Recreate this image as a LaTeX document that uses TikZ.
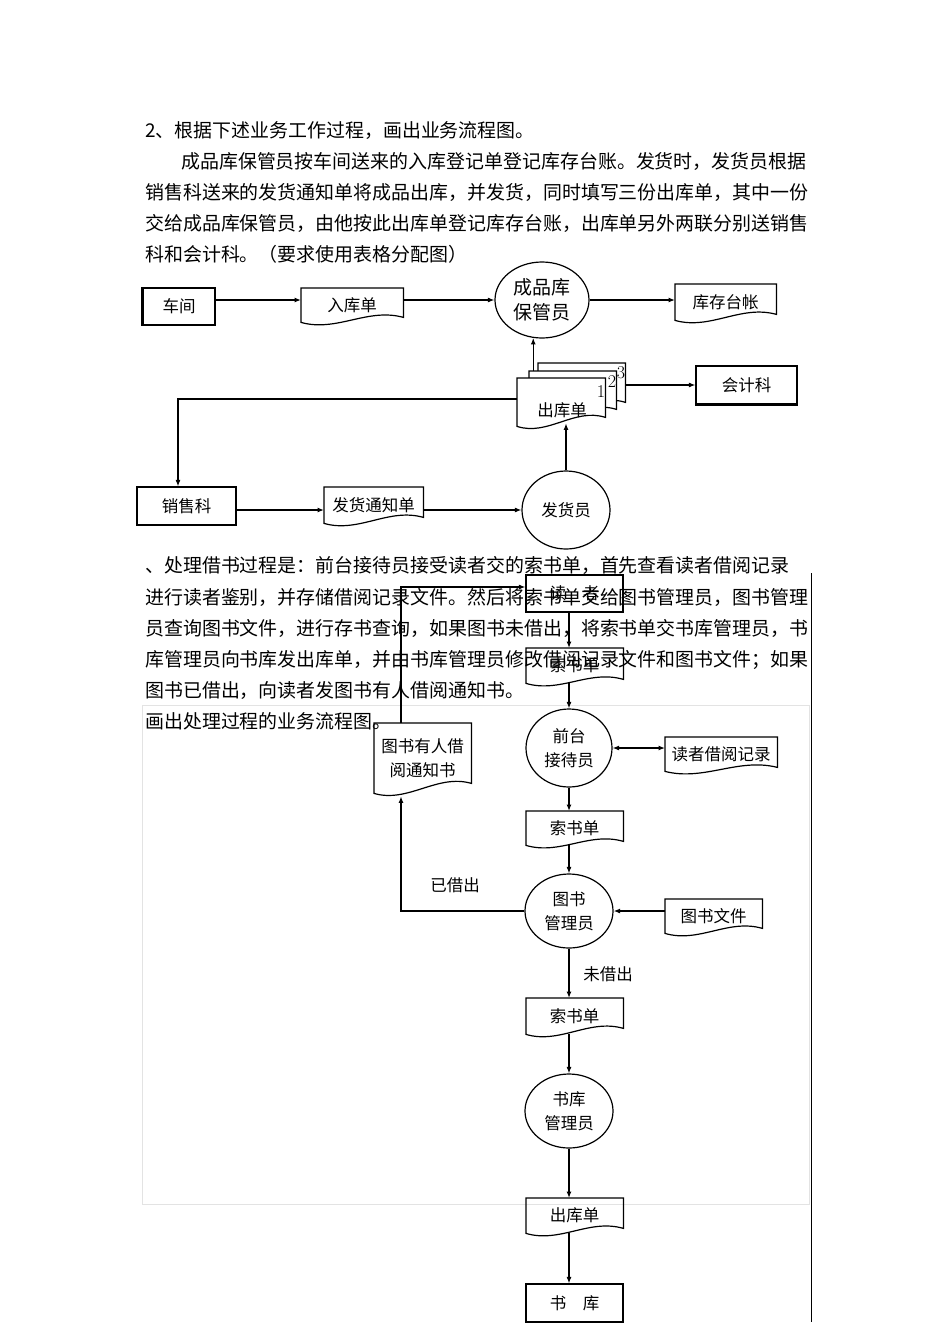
\documentclass[tikz,border=0pt]{standalone}
\usepackage{fontspec}
\newfontfamily\cjk{Noto Sans CJK SC}
\usetikzlibrary{arrows.meta,shapes.geometric,calc}

\tikzset{
  para/.style={anchor=base west, inner sep=0pt, font=\cjk\fontsize{18.95}{31}\selectfont},
  lbl/.style={inner sep=0pt, font=\cjk\fontsize{16.5}{24}\selectfont, align=center},
  box/.style={draw, line width=1.2pt, inner sep=0pt, font=\cjk\fontsize{16.5}{24}\selectfont},
  docbox/.style={inner sep=0pt, font=\cjk\fontsize{16.5}{24}\selectfont, align=center},
  docline/.style={draw, line width=1.2pt},
  proc/.style={ellipse, draw, line width=1.2pt, inner sep=0pt, align=center, font=\cjk\fontsize{16.5}{24}\selectfont},
  arr/.style={line width=1.2pt, -{Latex[length=6.5pt,width=5pt]}},
  arrs/.style={line width=1.2pt, {Latex[length=6.5pt,width=5pt]}-{Latex[length=6.5pt,width=5pt]}},
  num/.style={inner sep=0pt, font=\fontsize{18}{20}\selectfont},
}

% #1 extra style, #2 name, #3 x-left, #4 y-top, #5 width, #6 height (top to left bottom), #7 rise of right end, #8 text
\newcommand{\docu}[8]{%
  \node[docbox, minimum width=#5pt, minimum height=#6pt, anchor=north west] (#2) at (#3,#4) {#8};
  \path[docline,#1] (#2.south west) -- (#2.north west) -- (#2.north east) -- ($(#2.south east)+(0,-#7)$)
    .. controls ($(#2.south west)!0.65!(#2.south east)+(0,-#7-10)$) and ($(#2.south west)!0.35!(#2.south east)+(0,10)$) .. (#2.south west) -- cycle;
}

\begin{document}
\begin{tikzpicture}[x=1pt,y=-1pt]
\useasboundingbox[fill=white] (0,0) rectangle (950,1344);

% ---------- texts ----------
\node[para] (t0) at (145,137) {2、根据下述业务工作过程，画出业务流程图。};
\node[para] (t1) at (181,168) {成品库保管员按车间送来的入库登记单登记库存台账。发货时，发货员根据};
\node[para] (t2) at (145,199) {销售科送来的发货通知单将成品出库，并发货，同时填写三份出库单，其中一份};
\node[para] (t3) at (145,230) {交给成品库保管员，由他按此出库单登记库存台账，出库单另外两联分别送销售};
\node[para] (t4) at (145,261) {科和会计科。（要求使用表格分配图）};

\node[para] (s1) at (145,572) {、处理借书过程是：前台接待员接受读者交的索书单，首先查看读者借阅记录};
\node[para] (s2) at (145,604) {进行读者鉴别，并存储借阅记录文件。然后将索书单交给图书管理员，图书管理};
\node[para] (s3) at (145,635) {员查询图书文件，进行存书查询，如果图书未借出，将索书单交书库管理员，书};
\node[para] (s4) at (145,666) {库管理员向书库发出库单，并由书库管理员修改借阅记录文件和图书文件；如果};
\node[para] (s5) at (145,697) {图书已借出，向读者发图书有人借阅通知书。};
\node[para] (s6) at (145,728) {画出处理过程的业务流程图。};

% ---------- frame ----------
\draw[gray!22, line width=0.8pt] (142,705) rectangle (809,1204);
\draw[line width=1.3pt] (811.5,573) -- (811.5,1322);

% ---------- diagram 1 ----------
\node[box, minimum width=72pt, minimum height=37pt] (cj) at (179,306.5) {车间};
\draw[line width=2pt] (cj.south west) -- (cj.north west);
\docu{}{rk}{301}{288}{102}{34}{5}{入库单}
\node[proc, minimum width=94pt, minimum height=76pt, font=\cjk\fontsize{19}{25}\selectfont] (cpk) at (542,300) {成品库\\保管员};
\docu{}{kc}{675}{284}{101}{36}{6}{库存台帐}
\docu{fill=white}{ckd3}{538}{363}{87}{46}{7}{}
\docu{fill=white}{ckd2}{529}{371}{87}{45}{7}{}
\docu{fill=white}{ckd1}{517}{378}{88}{48}{9}{}
\node[lbl] (ckdt) at (562,410) {出库单};
\node[num] (n1) at (601,392) {1};
\node[num] (n2) at (612,382) {2};
\node[num] (n3) at (621,373) {3};
\node[box, minimum width=101pt, minimum height=38pt] (kjk) at (746.5,385) {会计科};
\draw[line width=2pt] (kjk.south west) -- (kjk.south east);
\node[box, minimum width=99pt, minimum height=38pt] (xsk) at (186.5,506) {销售科};
\docu{}{fhtz}{324}{487}{99}{36}{6}{发货通知单}
\node[proc, minimum width=88pt, minimum height=78pt] (fhy) at (566,510) {发货员};

\draw[arr] (cj.east |- cpk) -- (rk.west |- cpk);
\draw[arr] (rk.east |- cpk) -- (cpk.west);
\draw[arr] (cpk.east) -- (kc.west |- cpk);
\draw[arr] (cpk.-103 |- ckd2.north) -- (cpk.-103);
\draw[arr] (ckd3.east |- kjk) -- (kjk.west);
\coordinate (c1) at (178,399);
\draw[arr] (ckd1.west |- c1) -- (c1) -- (c1 |- xsk.north);
\draw[arr] (xsk.east |- fhy) -- (fhtz.west |- fhy);
\draw[arr] (fhtz.east |- fhy) -- (fhy.west);
\draw[arr] (fhy.north) -- ($(fhy.north |- ckd1.south)+(0,-3)$);

% ---------- diagram 2 ----------
\node[box, minimum width=97pt, minimum height=37pt] (dz) at (574.5,593.5) {读　者};
\docu{}{ssd1}{526}{648}{97}{35}{4}{索书单}
\node[proc, minimum width=86pt, minimum height=78pt] (qt) at (569,748) {前台\\接待员};
\docu{}{djl}{665}{737}{112}{34}{4}{读者借阅记录}
\docu{}{tzs}{374}{723}{97}{70}{10}{图书有人借\\阅通知书}
\docu{}{ssd2}{526}{811}{97}{34}{4}{索书单}
\node[proc, minimum width=88pt, minimum height=74pt] (tsg) at (569,911) {图书\\管理员};
\docu{}{tswj}{665}{899}{97}{34}{5}{图书文件}
\docu{}{ssd3}{526}{998}{97}{36}{6}{索书单}
\node[proc, minimum width=88pt, minimum height=74pt] (skg) at (569,1111) {书库\\管理员};
\docu{}{ckd}{526}{1198}{97}{35}{5}{出库单}
\node[box, minimum width=97pt, minimum height=38pt] (sk) at (574.5,1303) {书　库};
\node[lbl] (yjc) at (455,885) {已借出};
\node[lbl] (wjc) at (608,974) {未借出};

\coordinate (c3) at (401,587);
\draw[arr] (tzs.north -| c3) -- (c3) -- (c3 -| dz.west);
\draw[arr] (dz.south -| qt) -- (ssd1.north -| qt);
\draw[arr] (ssd1.south -| qt) -- (qt.north);
\draw[arrs] (qt.east) -- (djl.west |- qt);
\draw[arr] (qt.south) -- (ssd2.north -| qt);
\draw[arr] (ssd2.south -| tsg) -- (tsg.north);
\draw[arr, line width=2pt] (tswj.west |- tsg) -- (tsg.east);
\coordinate (c2) at (401,911);
\draw[arr] (tsg.west) -- (c2) -- ($(c2 |- tzs.south)+(0,3)$);
\draw[arr] (tsg.south) -- (ssd3.north -| tsg);
\draw[arr] (ssd3.south -| skg) -- (skg.north);
\draw[arr] (skg.south) -- (ckd.north -| skg);
\draw[arr] (ckd.south -| skg) -- (sk.north -| skg);
\end{tikzpicture}
\end{document}
